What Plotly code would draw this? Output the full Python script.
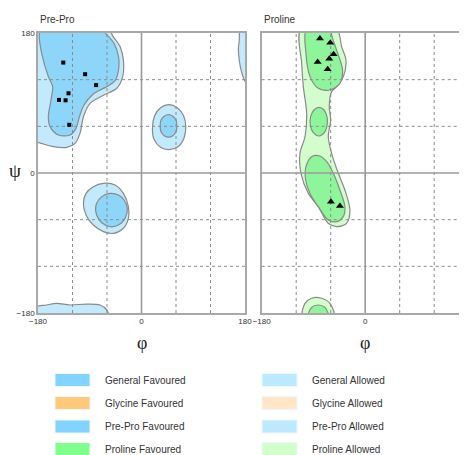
import plotly.graph_objects as go

# ---------------- data ----------------
PREPRO_PHI = [-136, -98, -79, -127, -143.5, -132, -125.6]
PREPRO_PSI = [142, 127, 113, 102.5, 94, 93.5, 62]

PRO_PHI = [-78.7, -60.8, -55, -62.5, -82.7, -65.3, -59.6, -44]
PRO_PSI = [173, 167.5, 152.6, 147, 142.7, 133.3, -37, -42.4]

AXIS_TICKS = [-180, 0, 180]
GRID_DASHED = [-120, -60, 60, 120]
GRID_SOLID = [0]

# contour regions (phi, psi)
PREPRO_ALLOWED = [
    [(-185, 185), (-185, 42.4), (-170.7, 37.3), (-153.3, 33.9), (-130, 33), (-115.6, 38),
     (-107, 51), (-101, 72.4), (-89.5, 89.6), (-66, 100), (-43, 109), (-32.7, 124),
     (-31.5, 145), (-37, 162), (-49, 175), (-58, 185)],
    [(-66.3, -13.3), (-83.7, -17.6), (-96.5, -26.2), (-101, -39), (-96.5, -54), (-83.7, -66.9),
     (-66.3, -75.4), (-49, -77.6), (-31.5, -71), (-22.8, -58.3), (-22.8, -43.3), (-31.5, -26.2),
     (-46, -15.4)],
    [(48, 88), (62, 84), (73, 74), (77, 60), (74, 45), (64, 34), (48, 30), (33, 33),
     (22, 43), (19, 58), (23, 74), (33, 84)],
    [(-185, -185), (-185, -172.7), (-165, -169.7), (-147.5, -167.6), (-124.3, -169.7),
     (-95.4, -168.5), (-72, -169.7), (-60.6, -176), (-57.7, -185)],
    [(185, 185), (172, 185), (170, 170), (168.5, 160), (170, 145), (174, 130), (180, 118),
     (185, 115)],
]
PREPRO_FAVOURED = [
    [(-173.6, 185), (-177.7, 177.4), (-173.6, 153.9), (-162, 123.9), (-154.5, 111),
     (-157.4, 93.9), (-162, 72.4), (-159, 59.6), (-144.6, 48.9), (-124.3, 48.9),
     (-113.9, 57.4), (-108, 72.4), (-100, 87.4), (-83.8, 101.6), (-60.6, 111), (-46, 118.7),
     (-40, 132.4), (-40, 149.6), (-47.8, 166.7), (-59.4, 177), (-72, 185)],
    [(-54.7, -26.2), (-69, -30.4), (-79, -41), (-78, -54), (-69, -63.9), (-54.7, -69),
     (-40, -66.9), (-28.7, -58.3), (-24.6, -45.4), (-30.4, -34.7), (-40, -28.3)],
    [(47, 75), (54.5, 73), (60, 68), (61.5, 60.5), (60, 53), (54.5, 48), (47, 46),
     (39.5, 48), (34, 53), (32.5, 60.5), (34, 68), (39.5, 73)],
]
PRO_ALLOWED = [
    [(-49.7, 185), (-41, 162.4), (-33.5, 145.3), (-38, 123.9), (-49.7, 111), (-58.4, 104.6),
     (-62.5, 85.3), (-60, 68.1), (-64.2, 46.7), (-58.4, 25.3), (-46.8, -0.4), (-35.3, -21.9),
     (-26.6, -47.6), (-32.4, -64.7), (-49.7, -69), (-64.2, -64.7), (-81.6, -43.3),
     (-98.9, -26.2), (-111.7, -0.4), (-113.4, 25.3), (-104.7, 46.7), (-101.8, 76.7),
     (-107.6, 111), (-110.5, 141), (-111.7, 185)],
    [(-108.8, -185), (-104.7, -167.6), (-93.2, -161), (-75.8, -161), (-61.3, -167.6),
     (-54.4, -185)],
]
PRO_FAVOURED = [
    [(-101.8, 185), (-103, 153.9), (-96, 123.9), (-81.6, 108.9), (-61.3, 106.7),
     (-44, 115.3), (-39.4, 132.4), (-49.7, 158), (-58.4, 177.4), (-60, 185)],
    [(-80.4, 84.4), (-71.7, 81), (-66.5, 72.4), (-65.9, 63.9), (-70, 53.1), (-80.4, 47.6),
     (-90.3, 51.9), (-95.5, 61.7), (-94.9, 72.4), (-89.1, 81)],
    [(-93.2, 21), (-103, 8.1), (-103.6, -9), (-96, -26.2), (-81.6, -43.3), (-64.2, -60.4),
     (-49.7, -62.6), (-38.2, -56.1), (-35.3, -43.3), (-44, -21.9), (-55.5, -0.4),
     (-67, 14.6), (-78.7, 21.9)],
    [(-99, -185), (-93.2, -172.7), (-81.6, -169.7), (-70, -172.7), (-64.2, -185)],
]

LEGEND_LEFT = ["General Favoured", "Glycine Favoured", "Pre-Pro Favoured", "Proline Favoured"]
LEGEND_RIGHT = ["General Allowed", "Glycine Allowed", "Pre-Pro Allowed", "Proline Allowed"]
LEGEND_LEFT_COLORS = ["#80D4FF", "#FFC97A", "#80D4FF", "#80FF8C"]
LEGEND_RIGHT_COLORS = ["#BDE9FF", "#FFE6C6", "#BDE9FF", "#D2FFCA"]

PANEL_TITLES = ["Pre-Pro", "Proline"]

# ---------------- figure ----------------
PAGE_W, PAGE_H = 467, 455
OFF = 8  # default page body margin
W, H = PAGE_W - OFF, PAGE_H - OFF
FONT = "Liberation Sans Narrow, Liberation Sans, Arial, sans-serif"
SERIF = "Liberation Serif, DejaVu Serif, serif"
OUTLINE = "#8a8a8a"


def px(xp):
    return (xp - OFF) / W


def py(yp):
    return 1 - (yp - OFF) / H


fig = go.Figure()


def add_regions(regions, color, xa, ya):
    for reg in regions:
        xs = [p[0] for p in reg] + [reg[0][0]]
        ys = [p[1] for p in reg] + [reg[0][1]]
        fig.add_trace(go.Scatter(x=xs, y=ys, mode="lines", fill="toself", fillcolor=color,
                                 line=dict(color=OUTLINE, width=1.2, shape="spline", smoothing=0.9),
                                 xaxis=xa, yaxis=ya, hoverinfo="skip", showlegend=False))


def add_grid(xa, ya):
    dx, dy = [], []
    for v in GRID_DASHED:
        dx += [v, v, None]
        dy += [AXIS_TICKS[0], AXIS_TICKS[-1], None]
        dx += [AXIS_TICKS[0], AXIS_TICKS[-1], None]
        dy += [v, v, None]
    fig.add_trace(go.Scatter(x=dx, y=dy, mode="lines",
                             line=dict(color="#8c8c8c", width=1, dash="3px,3px"),
                             xaxis=xa, yaxis=ya, hoverinfo="skip", showlegend=False))
    sx, sy = [], []
    for v in GRID_SOLID:
        sx += [v, v, None]
        sy += [AXIS_TICKS[0], AXIS_TICKS[-1], None]
        sx += [AXIS_TICKS[0], AXIS_TICKS[-1], None]
        sy += [v, v, None]
    fig.add_trace(go.Scatter(x=sx, y=sy, mode="lines",
                             line=dict(color="#9a9a9a", width=1.6),
                             xaxis=xa, yaxis=ya, hoverinfo="skip", showlegend=False))


add_regions(PREPRO_ALLOWED, "#C2EAFC", "x", "y")
add_regions(PREPRO_FAVOURED, "#8DD6FA", "x", "y")
add_grid("x", "y")
fig.add_trace(go.Scatter(x=PREPRO_PHI, y=PREPRO_PSI, mode="markers",
                         marker=dict(symbol="square", size=4, color="black"),
                         xaxis="x", yaxis="y", showlegend=False))

add_regions(PRO_ALLOWED, "#D4FDCE", "x2", "y2")
add_regions(PRO_FAVOURED, "#8EF59B", "x2", "y2")
add_grid("x2", "y2")
fig.add_trace(go.Scatter(x=PRO_PHI, y=PRO_PSI, mode="markers",
                         marker=dict(symbol="triangle-up", size=7, color="black"),
                         xaxis="x2", yaxis="y2", showlegend=False))

# geometry (page pixels)
L_X0, L_X1 = 38, 245
R_X0 = 261.7
P_TOP, P_BOT = 33, 313
px_per_deg = (L_X1 - L_X0) / 360.0
r_max = -180 + (PAGE_W - R_X0) / px_per_deg
ydom = [py(P_BOT), py(P_TOP)]

axis_common = dict(showgrid=False, zeroline=False, showline=True, mirror=True,
                   linecolor="#a8a8a8", linewidth=1.5, ticks="", layer="above traces",
                   automargin=False,
                   tickfont=dict(family=FONT, size=8, color="#333"), fixedrange=True)

fig.update_layout(
    template="none",
    width=W, height=H, margin=dict(l=0, r=0, t=0, b=0, pad=0), autosize=False,
    paper_bgcolor="white", plot_bgcolor="white", showlegend=False,
    xaxis=dict(domain=[px(L_X0), px(L_X1)], range=[-180, 180], tickvals=AXIS_TICKS,
               anchor="y", **axis_common),
    yaxis=dict(domain=ydom, range=[-180, 180], tickvals=AXIS_TICKS, anchor="x", **axis_common),
    xaxis2=dict(domain=[px(R_X0), 1], range=[-180, r_max], tickvals=AXIS_TICKS,
                anchor="y2", **axis_common),
    yaxis2=dict(domain=ydom, range=[-180, 180], tickvals=AXIS_TICKS, anchor="x2",
                showticklabels=False, **axis_common),
)

ann = []
# cut-off 180 label at right panel edge
ann.append(dict(x=px(R_X0 + 360 * px_per_deg), y=py(325), xref="paper", yref="paper",
                text=str(AXIS_TICKS[-1]), showarrow=False, xanchor="center", yanchor="middle",
                font=dict(family=FONT, size=8, color="#333")))
# panel titles
for t, x in zip(PANEL_TITLES, [L_X0, R_X0]):
    ann.append(dict(x=px(x), y=py(19), xref="paper", yref="paper", text=t, showarrow=False,
                    xanchor="left", yanchor="middle", font=dict(family=FONT, size=10, color="#333")))
# axis titles
ann.append(dict(x=px(15), y=py(171), xref="paper", yref="paper", text="ψ", showarrow=False,
                xanchor="center", yanchor="middle", font=dict(family=SERIF, size=19, color="#222")))
for cx in [(L_X0 + L_X1) / 2, R_X0 + 180 * px_per_deg]:
    ann.append(dict(x=px(cx), y=py(343), xref="paper", yref="paper", text="φ", showarrow=False,
                    xanchor="center", yanchor="middle", font=dict(family=SERIF, size=18, color="#222")))

shapes = []
row_y = [380, 403, 426.5, 449]
for i, yy in enumerate(row_y):
    for sx, col, lab, tx in [(55, LEGEND_LEFT_COLORS[i], LEGEND_LEFT[i], 103),
                             (262, LEGEND_RIGHT_COLORS[i], LEGEND_RIGHT[i], 310)]:
        shapes.append(dict(type="rect", xref="paper", yref="paper",
                           x0=px(sx), x1=px(sx + 35), y0=py(yy + 6.5), y1=py(yy - 6.5),
                           fillcolor=col, line=dict(color="#eef6ff", width=1)))
        ann.append(dict(x=px(tx), y=py(yy), xref="paper", yref="paper", text=lab,
                        showarrow=False, xanchor="left", yanchor="middle",
                        font=dict(family=FONT, size=10, color="#333")))

fig.update_layout(annotations=ann, shapes=shapes)
fig.write_html("out.html")
